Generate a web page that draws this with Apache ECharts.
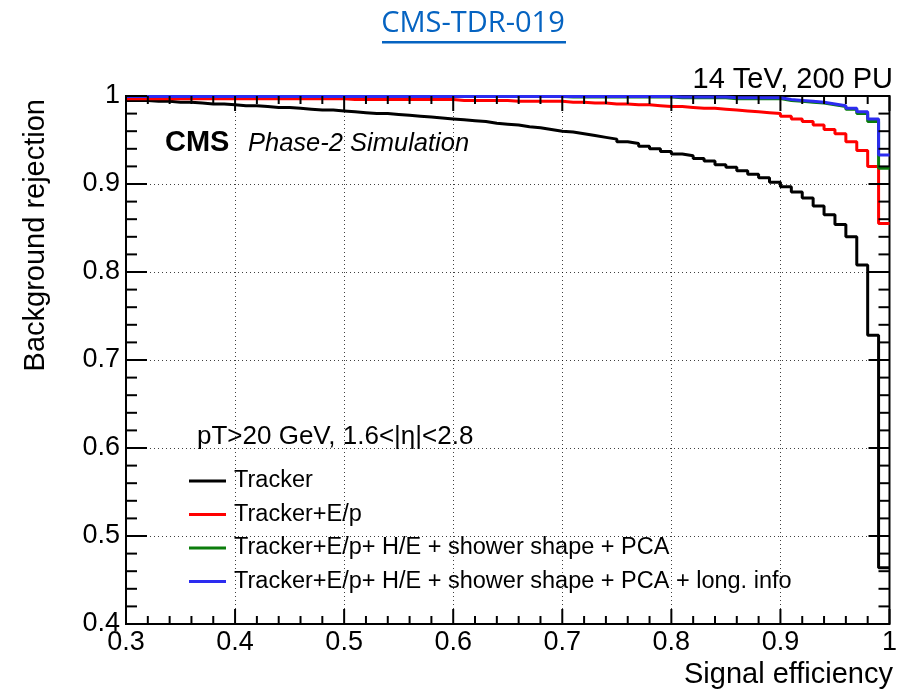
<!DOCTYPE html>
<html>
<head>
<meta charset="utf-8">
<script src="https://cdn.jsdelivr.net/npm/echarts@6/dist/echarts.min.js"></script>
<style>
  html, body { margin: 0; padding: 0; background: #fff; }
  #chart { width: 900px; height: 689px; }
</style>
</head>
<body>
<div id="chart"></div>
<script>
// Lower edge of each signal-efficiency bin (bin width 0.01)
const binEdges = [
  0.30, 0.31, 0.32, 0.33, 0.34, 0.35, 0.36, 0.37, 0.38, 0.39,
  0.40, 0.41, 0.42, 0.43, 0.44, 0.45, 0.46, 0.47, 0.48, 0.49,
  0.50, 0.51, 0.52, 0.53, 0.54, 0.55, 0.56, 0.57, 0.58, 0.59,
  0.60, 0.61, 0.62, 0.63, 0.64, 0.65, 0.66, 0.67, 0.68, 0.69,
  0.70, 0.71, 0.72, 0.73, 0.74, 0.75, 0.76, 0.77, 0.78, 0.79,
  0.80, 0.81, 0.82, 0.83, 0.84, 0.85, 0.86, 0.87, 0.88, 0.89,
  0.90, 0.91, 0.92, 0.93, 0.94, 0.95, 0.96, 0.97, 0.98, 0.99
];
const lastEdge = 1.0;

// Background rejection per bin
const tracker = [
  0.995, 0.995, 0.994, 0.994, 0.993, 0.993, 0.992, 0.991, 0.991, 0.990,
  0.989, 0.989, 0.988, 0.987, 0.987, 0.986, 0.985, 0.984, 0.984, 0.983,
  0.982, 0.981, 0.980, 0.980, 0.979, 0.978, 0.977, 0.976, 0.975, 0.974,
  0.973, 0.972, 0.971, 0.969, 0.968, 0.967, 0.965, 0.964, 0.962, 0.960,
  0.959, 0.957, 0.955, 0.953, 0.951, 0.948, 0.946, 0.943, 0.940, 0.937,
  0.934, 0.932, 0.929, 0.926, 0.922, 0.919, 0.915, 0.911, 0.907, 0.902,
  0.897, 0.891, 0.884, 0.875, 0.865, 0.854, 0.840, 0.808, 0.728, 0.464
];
const trackerEp = [
  0.997, 0.997, 0.997, 0.997, 0.997, 0.997, 0.997, 0.997, 0.997, 0.997,
  0.997, 0.997, 0.997, 0.997, 0.997, 0.997, 0.997, 0.997, 0.997, 0.997,
  0.996, 0.996, 0.996, 0.996, 0.996, 0.996, 0.996, 0.996, 0.996, 0.996,
  0.995, 0.995, 0.995, 0.995, 0.995, 0.994, 0.994, 0.994, 0.994, 0.994,
  0.993, 0.993, 0.992, 0.992, 0.991, 0.991, 0.990, 0.990, 0.989, 0.988,
  0.988, 0.987, 0.986, 0.986, 0.985, 0.984, 0.983, 0.982, 0.981, 0.980,
  0.977, 0.974, 0.971, 0.967, 0.962, 0.957, 0.948, 0.938, 0.920, 0.855
];
const trackerEpShape = [
  0.9995, 0.9995, 0.9995, 0.9995, 0.9995, 0.9995, 0.9995, 0.9995, 0.9995, 0.9995,
  0.9995, 0.9995, 0.9995, 0.9995, 0.9995, 0.9995, 0.9995, 0.9995, 0.9995, 0.9995,
  0.9995, 0.9995, 0.9995, 0.9995, 0.9995, 0.9995, 0.9995, 0.9995, 0.9995, 0.9995,
  0.9995, 0.9995, 0.9995, 0.9995, 0.9995, 0.9995, 0.9995, 0.9995, 0.9995, 0.9995,
  0.999, 0.999, 0.999, 0.999, 0.999, 0.999, 0.999, 0.999, 0.999, 0.999,
  0.998, 0.998, 0.998, 0.998, 0.998, 0.997, 0.997, 0.997, 0.997, 0.997,
  0.995, 0.994, 0.993, 0.992, 0.990, 0.988, 0.985, 0.980, 0.971, 0.918
];
const trackerEpShapeLong = [
  0.9995, 0.9995, 0.9995, 0.9995, 0.9995, 0.9995, 0.9995, 0.9995, 0.9995, 0.9995,
  0.9995, 0.9995, 0.9995, 0.9995, 0.9995, 0.9995, 0.9995, 0.9995, 0.9995, 0.9995,
  0.9995, 0.9995, 0.9995, 0.9995, 0.9995, 0.9995, 0.9995, 0.9995, 0.9995, 0.9995,
  0.9995, 0.9995, 0.9995, 0.9995, 0.9995, 0.9995, 0.9995, 0.9995, 0.9995, 0.9995,
  0.9995, 0.9995, 0.9995, 0.9995, 0.9995, 0.9995, 0.9995, 0.9995, 0.9995, 0.9995,
  0.999, 0.999, 0.999, 0.999, 0.999, 0.998, 0.998, 0.998, 0.998, 0.998,
  0.996, 0.995, 0.994, 0.993, 0.991, 0.989, 0.986, 0.982, 0.974, 0.933
];

const seriesNames = [
  'Tracker',
  'Tracker+E/p',
  'Tracker+E/p+ H/E + shower shape + PCA',
  'Tracker+E/p+ H/E + shower shape + PCA + long. info'
];
const seriesColors = ['#000000', '#ff0000', '#0b7d0b', '#2c2cf0'];
const seriesValues = [tracker, trackerEp, trackerEpShape, trackerEpShapeLong];

// axis ranges and tick positions
const xRange = [0.3, 1.0];
const yRange = [0.4, 1.0];
const xMajorTicks = [0.3, 0.4, 0.5, 0.6, 0.7, 0.8, 0.9, 1.0];
const xMinorTicks = [
  0.32, 0.34, 0.36, 0.38, 0.42, 0.44, 0.46, 0.48, 0.52, 0.54, 0.56, 0.58,
  0.62, 0.64, 0.66, 0.68, 0.72, 0.74, 0.76, 0.78, 0.82, 0.84, 0.86, 0.88,
  0.92, 0.94, 0.96, 0.98
];
const yMajorTicks = [0.4, 0.5, 0.6, 0.7, 0.8, 0.9, 1.0];
const yMinorTicks = [
  0.42, 0.44, 0.46, 0.48, 0.52, 0.54, 0.56, 0.58, 0.62, 0.64, 0.66, 0.68,
  0.72, 0.74, 0.76, 0.78, 0.82, 0.84, 0.86, 0.88, 0.92, 0.94, 0.96, 0.98
];

const FONT = 'Liberation Sans, Arial, Helvetica, sans-serif';

// histogram outline: one point per bin start plus the closing edge, drawn with step 'end'
function histPoints(values) {
  const pts = binEdges.map((e, i) => [e, values[i]]);
  pts.push([lastEdge, values[values.length - 1]]);
  return pts;
}

function tickLine(x1, y1, x2, y2) {
  return { type: 'line', shape: { x1: x1, y1: y1, x2: x2, y2: y2 }, style: { stroke: '#000', lineWidth: 2 } };
}

// ROOT-style inward ticks on all four sides of the frame
function xTickSeries(values, len) {
  return {
    type: 'custom', z: 20, clip: false,
    xAxisIndex: 0, yAxisIndex: 0,
    data: values.map(v => [v, 0.7]),
    renderItem: function (params, api) {
      const v = api.value(0);
      const b = api.coord([v, yRange[0]]);
      const t = api.coord([v, yRange[1]]);
      return {
        type: 'group',
        children: [
          tickLine(b[0], b[1], b[0], b[1] - len),
          tickLine(t[0], t[1], t[0], t[1] + len)
        ]
      };
    }
  };
}
function yTickSeries(values, len) {
  return {
    type: 'custom', z: 20, clip: false,
    xAxisIndex: 0, yAxisIndex: 0,
    data: values.map(v => [0.6, v]),
    renderItem: function (params, api) {
      const v = api.value(1);
      const l = api.coord([xRange[0], v]);
      const r = api.coord([xRange[1], v]);
      return {
        type: 'group',
        children: [
          tickLine(l[0], l[1], l[0] + len, l[1]),
          tickLine(r[0], r[1], r[0] - len, r[1])
        ]
      };
    }
  };
}

const chart = echarts.init(document.getElementById('chart'));

const dottedGrid = { show: true, lineStyle: { color: '#000', width: 1, type: [1, 3], opacity: 0.75 } };

const option = {
  animation: false,
  grid: { left: 126, right: 7, top: 96, bottom: 65, containLabel: false, show: true, borderColor: '#000', borderWidth: 2, backgroundColor: 'transparent' },
  xAxis: {
    type: 'value', min: xRange[0], max: xRange[1], interval: 0.1, position: 'bottom',
    axisLine: { show: false, onZero: false },
    axisTick: { show: false },
    splitLine: dottedGrid,
    axisLabel: { color: '#000', fontFamily: FONT, fontSize: 27, margin: 5, showMinLabel: true, showMaxLabel: true }
  },
  yAxis: {
    type: 'value', min: yRange[0], max: yRange[1], interval: 0.1, position: 'left',
    axisLine: { show: false, onZero: false },
    axisTick: { show: false },
    splitLine: dottedGrid,
    axisLabel: { color: '#000', fontFamily: FONT, fontSize: 27, margin: 6, showMinLabel: true, showMaxLabel: true }
  },
  legend: {
    orient: 'vertical',
    left: 189,
    top: 469,
    padding: 0,
    icon: 'rect',
    itemWidth: 37,
    itemHeight: 3,
    itemGap: 9.5,
    data: seriesNames,
    selectedMode: false,
    textStyle: { color: '#000', fontFamily: FONT, fontSize: 23.5, lineHeight: 24, padding: [0, 0, 0, 3] }
  },
  series: seriesNames.map((name, i) => ({
    name: name,
    type: 'line',
    step: 'end',
    xAxisIndex: 0,
    yAxisIndex: 0,
    showSymbol: false,
    symbol: 'none',
    color: seriesColors[i],
    lineStyle: { color: seriesColors[i], width: 3 },
    data: histPoints(seriesValues[i]),
    z: 2 + i
  })).concat([
    xTickSeries(xMajorTicks, 15),
    xTickSeries(xMinorTicks, 8),
    yTickSeries(yMajorTicks, 21),
    yTickSeries(yMinorTicks, 11)
  ]),
  graphic: [
    {
      type: 'text', x: 473, y: 24,
      style: { text: 'CMS-TDR-019', fill: '#0563c1', font: '29px "Open Sans", "Noto Sans", sans-serif', textAlign: 'center', textVerticalAlign: 'middle' }
    },
    {
      type: 'rect', shape: { x: 382, y: 41, width: 184, height: 2.5 },
      style: { fill: '#0563c1' }
    },
    {
      type: 'text', x: 893, y: 80,
      style: { text: '14 TeV, 200 PU', fill: '#000', font: '29px ' + FONT, textAlign: 'right', textVerticalAlign: 'middle' }
    },
    {
      type: 'text', x: 165, y: 143,
      style: { text: 'CMS', fill: '#000', font: 'bold 29px ' + FONT, textAlign: 'left', textVerticalAlign: 'middle' }
    },
    {
      type: 'text', x: 248, y: 144,
      style: { text: 'Phase-2 Simulation', fill: '#000', font: 'italic 25.5px ' + FONT, textAlign: 'left', textVerticalAlign: 'middle' }
    },
    {
      type: 'text', x: 197, y: 437,
      style: { text: 'pT>20 GeV, 1.6<|η|<2.8', fill: '#000', font: '26px ' + FONT, textAlign: 'left', textVerticalAlign: 'middle' }
    },
    {
      type: 'text', x: 893, y: 675,
      style: { text: 'Signal efficiency', fill: '#000', font: '29px ' + FONT, textAlign: 'right', textVerticalAlign: 'middle' }
    },
    {
      type: 'text', x: 36, y: 99, rotation: Math.PI / 2,
      style: { text: 'Background rejection', fill: '#000', font: '29px ' + FONT, textAlign: 'right', textVerticalAlign: 'middle' }
    }
  ]
};

chart.setOption(option);
</script>
</body>
</html>
